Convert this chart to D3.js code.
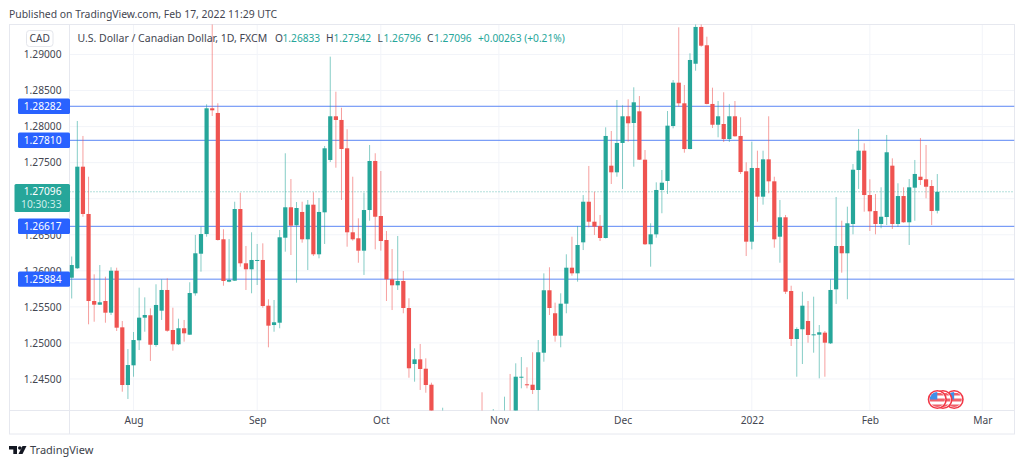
<!DOCTYPE html>
<html>
<head>
<meta charset="utf-8">
<script src="https://cdn.jsdelivr.net/npm/d3@7"></script>
<style>
	html, body { margin: 0; padding: 0; background: #fff; overflow: hidden; }
	svg { display: block; }
	text { font-family: "Noto Sans", sans-serif; }
</style>
</head>
<body>
<script>
var opens = [
	1.25904,1.26035,1.27444,1.26788,1.25581,1.25530,1.25581,1.25419,1.26001,1.25216,
	1.24416,1.24689,1.25036,1.25350,1.25383,1.24971,1.25447,1.25734,1.25179,1.24981,
	1.25203,1.25114,1.25688,1.26237,1.26510,1.28254,1.28189,1.26437,1.25849,1.25863,
	1.26857,1.26104,1.26021,1.26140,1.26150,1.25516,1.25248,1.25280,1.26459,1.26881,
	1.26631,1.26816,1.26437,1.26917,1.26229,1.26811,1.27537,1.28143,1.28092,1.27699,
	1.26534,1.26451,1.26279,1.26843,1.27523,1.26760,1.26427,1.25882,1.25799,1.25859,
	1.25484,1.24707,1.24772,1.24642,1.24420,1.23850,1.23920,1.23980,1.23780,1.23620,
	1.23800,1.23680,1.23880,1.23920,1.23780,1.23850,1.23980,1.23850,1.24020,1.23880,
	1.24523,1.24426,1.24420,1.24347,1.24864,1.25730,1.25411,1.25100,1.25544,1.26043,
	1.25965,1.26395,1.26958,1.26681,1.26621,1.26455,1.27458,1.27366,1.27773,1.28143,
	1.28050,1.28212,1.27541,1.26368,1.26506,1.27121,1.27246,1.28008,1.28609,1.28323,
	1.27689,1.28872,1.29382,1.29128,1.28314,1.28026,1.28036,1.27828,1.28143,1.27870,
	1.27380,1.26404,1.27426,1.27028,1.27546,1.27241,1.26473,1.26742,1.25720,1.25054,
	1.25189,1.25304,1.25110,1.25114,1.25142,1.24994,1.25743,1.26344,1.26243,1.26649,
	1.27398,1.27666,1.27051,1.26829,1.26649,1.26746,1.27458,1.26649,1.27037,1.26673,
	1.27153,1.27305,1.27269,1.27176,1.26833
];
var highs = [
	1.26198,1.28078,1.27870,1.27305,1.25951,1.26080,1.25918,1.26049,1.26043,1.25304,
	1.24915,1.25151,1.25766,1.25632,1.25480,1.25813,1.25882,1.25896,1.25488,1.25336,
	1.25318,1.25841,1.26497,1.26612,1.28309,1.29479,1.28323,1.26576,1.26441,1.26958,
	1.27083,1.26344,1.26534,1.26372,1.26381,1.25605,1.25595,1.26566,1.27630,1.27273,
	1.26954,1.26958,1.26982,1.27089,1.27010,1.27731,1.28970,1.28484,1.28262,1.27963,
	1.27305,1.26728,1.27083,1.27745,1.27630,1.27384,1.26552,1.26302,1.26483,1.25997,
	1.25619,1.24925,1.24985,1.24786,1.24448,1.24020,1.24101,1.24040,1.23900,1.23850,
	1.23960,1.23950,1.24020,1.24315,1.24000,1.24083,1.24030,1.24254,1.24569,1.24717,
	1.24804,1.24662,1.24870,1.25040,1.25965,1.26049,1.25558,1.25688,1.26229,1.26473,
	1.26621,1.27051,1.27454,1.27097,1.26774,1.27990,1.27939,1.28369,1.28295,1.28379,
	1.28545,1.28424,1.27675,1.26659,1.27227,1.27398,1.28216,1.28646,1.29377,1.28577,
	1.29017,1.29479,1.29479,1.29247,1.28540,1.28355,1.28476,1.28314,1.28355,1.28129,
	1.27505,1.27791,1.27666,1.27666,1.28143,1.27305,1.26982,1.26774,1.25793,1.25216,
	1.25710,1.25581,1.25641,1.25248,1.25165,1.25882,1.27024,1.26695,1.26889,1.27481,
	1.27967,1.27768,1.27269,1.27065,1.27158,1.27884,1.27560,1.27214,1.27158,1.27273,
	1.27537,1.27842,1.27745,1.27259,1.27342
];
var lows = [
	1.25616,1.26025,1.26750,1.25258,1.25294,1.25527,1.25280,1.25387,1.25165,1.24323,
	1.24222,1.24531,1.24901,1.25155,1.24749,1.24947,1.25318,1.25155,1.24892,1.24971,
	1.25017,1.25110,1.25655,1.25988,1.26473,1.28147,1.26420,1.25793,1.25841,1.25859,
	1.26057,1.25734,1.25688,1.25803,1.25488,1.24939,1.25155,1.25203,1.26265,1.26219,
	1.25835,1.26390,1.26011,1.26205,1.26173,1.26372,1.27509,1.27430,1.26982,1.26334,
	1.26418,1.26112,1.25942,1.26695,1.26298,1.26279,1.25581,1.25456,1.25734,1.25411,
	1.24517,1.24462,1.24347,1.24309,1.23720,1.23700,1.23780,1.23720,1.23520,1.23500,
	1.23600,1.23580,1.23680,1.23680,1.23660,1.23700,1.23750,1.23720,1.23780,1.23800,
	1.24370,1.24370,1.24291,1.23986,1.24739,1.25387,1.25017,1.24939,1.25411,1.25932,
	1.25849,1.26288,1.26603,1.26497,1.26413,1.26448,1.27204,1.27305,1.27135,1.27791,
	1.27444,1.27537,1.26358,1.26057,1.26459,1.26798,1.27065,1.27976,1.28276,1.27638,
	1.27685,1.28775,1.29108,1.28309,1.27981,1.27852,1.27786,1.27786,1.27860,1.27343,
	1.26205,1.26298,1.26681,1.26917,1.27075,1.26320,1.26112,1.25678,1.24957,1.24531,
	1.24707,1.25003,1.24864,1.24509,1.24531,1.24985,1.25540,1.25974,1.25605,1.26506,
	1.27135,1.26820,1.26552,1.26506,1.26590,1.26635,1.26580,1.26612,1.26667,1.26358,
	1.26695,1.27190,1.27006,1.26635,1.26796
];
var closes = [
	1.26080,1.27444,1.26788,1.25581,1.25530,1.25563,1.25419,1.26001,1.25211,1.24416,
	1.24693,1.25040,1.25350,1.25387,1.24975,1.25526,1.25734,1.25169,1.24981,1.25203,
	1.25133,1.25692,1.26243,1.26510,1.28254,1.28226,1.26427,1.25859,1.25872,1.26857,
	1.26104,1.26021,1.26150,1.26150,1.25512,1.25239,1.25286,1.26465,1.26881,1.26626,
	1.26871,1.26437,1.26917,1.26229,1.26816,1.27699,1.28143,1.28092,1.27689,1.26534,
	1.26437,1.26279,1.26843,1.27523,1.26750,1.26413,1.25882,1.25799,1.25859,1.25484,
	1.24648,1.24772,1.24638,1.24416,1.23850,1.23950,1.24030,1.23780,1.23620,1.23780,
	1.23680,1.23880,1.23750,1.23780,1.23950,1.24000,1.23850,1.24020,1.23880,1.24531,
	1.24531,1.24417,1.24347,1.24870,1.25730,1.25484,1.25100,1.25544,1.26043,1.25965,
	1.26358,1.26958,1.26681,1.26612,1.26455,1.27870,1.27366,1.27773,1.28143,1.28046,
	1.28337,1.27541,1.26368,1.26506,1.27121,1.27222,1.28013,1.28609,1.28323,1.27689,
	1.28924,1.29382,1.29122,1.28314,1.28026,1.28143,1.27828,1.28143,1.27866,1.27370,
	1.26404,1.27426,1.27028,1.27546,1.27241,1.26437,1.26742,1.25710,1.25054,1.25193,
	1.25516,1.25110,1.25119,1.25147,1.25003,1.25734,1.26344,1.26243,1.26659,1.27402,
	1.27666,1.27051,1.26825,1.26649,1.26750,1.27644,1.26649,1.27037,1.26673,1.27158,
	1.27343,1.27259,1.27166,1.26829,1.27096
];

var priceTicks = [1.245, 1.25, 1.255, 1.26, 1.265, 1.27, 1.275, 1.28, 1.285, 1.29];
// 1.27000 sits behind the last price tag in the picture, so it gets a grid line but no label
var priceLabels = [1.245, 1.25, 1.255, 1.26, 1.265, 1.275, 1.28, 1.285, 1.29];
var levels = [1.28282, 1.27810, 1.26617, 1.25884];
var lastPrice = 1.27096;
var monthIndex = [11, 33, 55, 76, 98, 121, 142, 162];
var monthLabels = ['Aug', 'Sep', 'Oct', 'Nov', 'Dec', '2022', 'Feb', 'Mar'];
var eventIndex = [157, 155, 154];

var up = '#26a69a', down = '#ef5350', blue = '#2962ff', ink = '#434651', gridColor = '#f2f4f9', frame = '#e6e8ef';
var W = 1024, H = 466, left = 69.5, right = 1014.5, top_ = 24.5, bottom = 410.5, frameBottom = 434;

var svg = d3.select('body').append('svg').attr('width', W).attr('height', H);
var x = d3.scaleLinear().domain([0, 154]).range([71.7, 937.3]);
var y = d3.scaleLinear().domain([1.29, 1.245]).range([54.5, 378.95]);
var candles = d3.range(opens.length);

svg.append('text').attr('x', 9).attr('y', 18).attr('font-size', 10.4).attr('fill', ink)
	.text('Published on TradingView.com, Feb 17, 2022 11:29 UTC');

svg.append('defs').append('clipPath').attr('id', 'pane').append('rect')
	.attr('x', left).attr('y', top_).attr('width', right - left).attr('height', bottom - top_);

// grid
var grid = svg.append('g');
grid.selectAll('line.h').data(priceTicks).enter().append('line').attr('class', 'h')
	.attr('x1', left).attr('x2', right).attr('y1', function(d) { return y(d); }).attr('y2', function(d) { return y(d); })
	.attr('stroke', gridColor);
grid.selectAll('line.v').data(monthIndex).enter().append('line').attr('class', 'v')
	.attr('y1', top_).attr('y2', bottom).attr('x1', function(d) { return x(d); }).attr('x2', function(d) { return x(d); })
	.attr('stroke', gridColor);

// frame
svg.append('rect').attr('x', 9.5).attr('y', top_).attr('width', right - 9.5).attr('height', frameBottom - top_)
	.attr('fill', 'none').attr('stroke', frame);
svg.append('line').attr('x1', 9.5).attr('x2', right).attr('y1', bottom).attr('y2', bottom).attr('stroke', frame);
svg.append('line').attr('x1', left).attr('x2', left).attr('y1', top_).attr('y2', frameBottom).attr('stroke', frame);

var pane = svg.append('g').attr('clip-path', 'url(#pane)');

// horizontal lines under the candles
pane.selectAll('line.level').data(levels).enter().append('line').attr('class', 'level')
	.attr('x1', left).attr('x2', right).attr('y1', function(d) { return y(d); }).attr('y2', function(d) { return y(d); })
	.attr('stroke', '#5b86f5').attr('stroke-width', 1);

pane.append('line').attr('x1', left).attr('x2', right).attr('y1', y(lastPrice)).attr('y2', y(lastPrice))
	.attr('stroke', up).attr('stroke-opacity', 0.7).attr('stroke-dasharray', '1 2');

function color(i) { return closes[i] >= opens[i] ? up : down; }

pane.selectAll('line.wick').data(candles).enter().append('line').attr('class', 'wick')
	.attr('x1', function(i) { return x(i); }).attr('x2', function(i) { return x(i); })
	.attr('y1', function(i) { return y(highs[i]); }).attr('y2', function(i) { return y(lows[i]); })
	.attr('stroke', color).attr('stroke-width', 0.8).attr('stroke-opacity', 0.7);

pane.selectAll('rect.body').data(candles).enter().append('rect').attr('class', 'body')
	.attr('x', function(i) { return x(i) - 2.1; }).attr('width', 4.2)
	.attr('y', function(i) { return y(Math.max(opens[i], closes[i])); })
	.attr('height', function(i) { return Math.max(1, Math.abs(y(opens[i]) - y(closes[i]))); })
	.attr('fill', color);

// price axis
var priceAxis = d3.axisLeft(y).tickValues(priceLabels).tickFormat(d3.format('.5f')).tickSize(0).tickPadding(0);
var axisG = svg.append('g').attr('transform', 'translate(61.5,0)').call(priceAxis);
axisG.select('.domain').remove();
axisG.selectAll('text').attr('font-size', 10.2).attr('fill', ink).style('font-family', '"Noto Sans", sans-serif');

// time axis
var timeAxis = d3.axisBottom(x).tickValues(monthIndex)
	.tickFormat(function(d) { return monthLabels[monthIndex.indexOf(d)]; }).tickSize(0).tickPadding(0);
var timeG = svg.append('g').attr('transform', 'translate(0,416.5)').call(timeAxis);
timeG.select('.domain').remove();
timeG.selectAll('text').attr('font-size', 10.2).attr('fill', ink).style('font-family', '"Noto Sans", sans-serif');

// level labels
var tags = svg.selectAll('g.tag').data(levels).enter().append('g').attr('class', 'tag')
	.attr('transform', function(d) { return 'translate(0,' + y(d) + ')'; });
tags.append('rect').attr('x', 18).attr('y', -7.7).attr('width', 52).attr('height', 15.4).attr('rx', 1.5).attr('fill', blue);
tags.append('text').attr('x', 61.5).attr('y', 3.7).attr('text-anchor', 'end').attr('font-size', 10.2).attr('fill', '#fff')
	.text(d3.format('.5f'));

// last price label
var last = svg.append('g').attr('transform', 'translate(0,' + y(lastPrice) + ')');
last.append('rect').attr('x', 14.5).attr('y', -7.8).attr('width', 55.5).attr('height', 28).attr('rx', 1.5).attr('fill', up);
last.append('text').attr('x', 61.5).attr('y', 3.7).attr('text-anchor', 'end').attr('font-size', 10.2).attr('fill', '#fff').text(d3.format('.5f')(lastPrice));
last.append('text').attr('x', 61.5).attr('y', 16.7).attr('text-anchor', 'end').attr('font-size', 10.2).attr('fill', '#cfeeea').text('10:30:33');

// currency button
svg.append('rect').attr('x', 26.5).attr('y', 30.5).attr('width', 26.5).attr('height', 16).attr('rx', 3)
	.attr('fill', '#fff').attr('stroke', '#e4e6ec');
svg.append('text').attr('x', 39.7).attr('y', 42).attr('text-anchor', 'middle').attr('font-size', 10.2).attr('fill', ink).text('CAD');

// legend
function legend(px, str, fill, size) {
	svg.append('text').attr('x', px).attr('y', 42.3).attr('font-size', size || 10.2).attr('fill', fill).text(str);
}
legend(77.5, 'U.S. Dollar / Canadian Dollar, 1D, FXCM', ink, 10.5);
legend(275, 'O', ink); legend(282.5, '1.26833', up);
legend(326, 'H', ink); legend(333.5, '1.27342', up);
legend(377.5, 'L', ink); legend(383.5, '1.26796', up);
legend(427, 'C', ink); legend(434, '1.27096', up);
legend(478, '+0.00263 (+0.21%)', up);

// event flags
svg.append('clipPath').attr('id', 'flagClip').append('circle').attr('r', 7.6);
var flags = svg.selectAll('g.flag').data(eventIndex).enter().append('g').attr('class', 'flag')
	.attr('transform', function(d) { return 'translate(' + x(d) + ',399.5)'; });
flags.append('circle').attr('r', 8.8).attr('fill', '#fff').attr('stroke', '#f23645').attr('stroke-width', 1.6);
var flagBody = flags.append('g').attr('clip-path', 'url(#flagClip)');
flagBody.append('rect').attr('x', -8).attr('y', -8).attr('width', 16).attr('height', 16).attr('fill', '#fff');
flagBody.append('rect').attr('x', -8).attr('y', -1).attr('width', 16).attr('height', 3).attr('fill', '#f0606a');
flagBody.append('rect').attr('x', -8).attr('y', 5).attr('width', 16).attr('height', 3).attr('fill', '#f0606a');
flagBody.append('rect').attr('x', -8).attr('y', -6.5).attr('width', 16).attr('height', 2.5).attr('fill', '#f0606a');
flagBody.append('rect').attr('x', -8).attr('y', -8).attr('width', 8).attr('height', 8).attr('fill', '#3f8fe8');

// logo
svg.append('path').attr('d', 'M9 446H17V454H13.3V449.5H9Z M22.5 446H26.5L22.5 454H18.5Z M18 448a1.8 1.8 0 1 0 3.6 0a1.8 1.8 0 1 0-3.6 0Z')
	.attr('fill', '#131722');
svg.append('text').attr('x', 30).attr('y', 454.3).attr('font-size', 11).attr('fill', '#3c3f4a').text('TradingView');
</script>
</body>
</html>
